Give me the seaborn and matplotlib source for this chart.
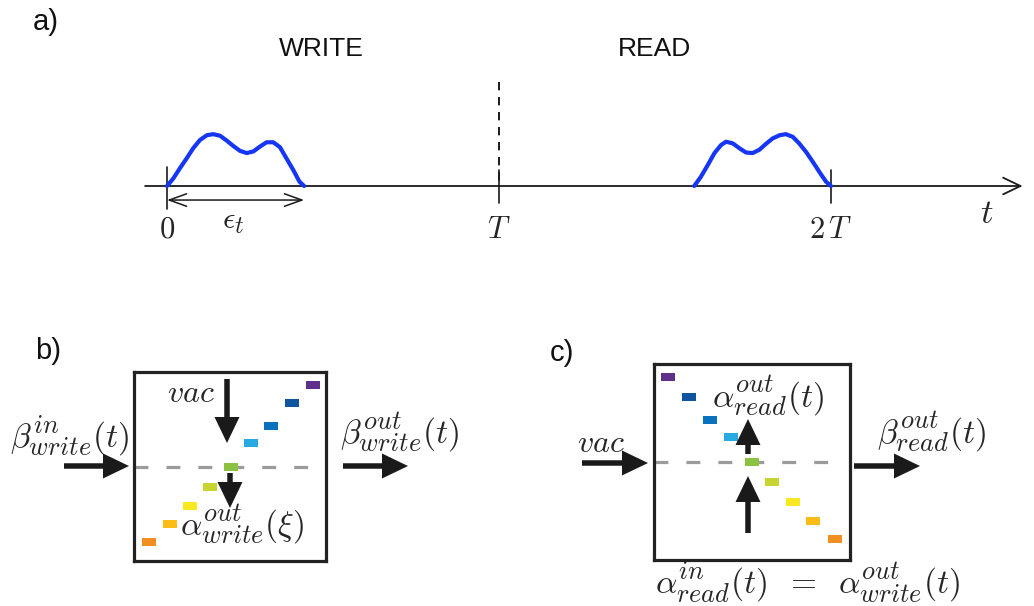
import numpy as np
import matplotlib
matplotlib.use("Agg")
import matplotlib.pyplot as plt
import matplotlib._mathtext as _mt
import seaborn as sns
from matplotlib.patches import Rectangle

# larger sub/superscripts, as in the reference typesetting
_mt.SHRINK_FACTOR = 0.79

# ---------------- data ----------------
# write pulse (time in units of T, amplitude arb. units)
write_t = [0.0, 0.019, 0.039, 0.059, 0.079, 0.099, 0.120, 0.139, 0.160, 0.180, 0.200,
           0.220, 0.240, 0.260, 0.280, 0.300, 0.320, 0.340, 0.360, 0.380, 0.399, 0.413]
write_a = [0.0, 0.14, 0.33, 0.51, 0.70, 0.85, 0.94, 0.96, 0.93, 0.84, 0.74,
           0.65, 0.61, 0.64, 0.73, 0.81, 0.81, 0.72, 0.51, 0.30, 0.08, 0.0]
# read pulse (time-reversed shape)
read_t = [1.588, 1.608, 1.629, 1.649, 1.669, 1.684, 1.704, 1.724, 1.744, 1.764, 1.784,
          1.804, 1.824, 1.845, 1.864, 1.885, 1.904, 1.925, 1.945, 1.965, 1.985, 2.0]
read_a = [0.0, 0.17, 0.39, 0.61, 0.76, 0.82, 0.79, 0.70, 0.62, 0.61, 0.67,
          0.78, 0.88, 0.94, 0.96, 0.91, 0.79, 0.63, 0.45, 0.26, 0.08, 0.0]

tick_times = [0, 1, 2]
tick_labels = [r"$0$", r"$T$", r"$2\,T$"]

# spectral modes -- colours from low to high index
mode_colors = ["#F18F21", "#FBBC15", "#F9E722", "#C8D431", "#8DC141",
               "#27AAE1", "#0A72BD", "#1155A0", "#5F2F8A"]
# relative positions of the modes inside the memory box (0..1)
write_mode_x = [0.078, 0.188, 0.292, 0.396, 0.505, 0.609, 0.714, 0.823, 0.932]
write_mode_y = [0.101, 0.196, 0.291, 0.392, 0.497, 0.624, 0.714, 0.836, 0.931]
read_mode_x = [0.923, 0.811, 0.709, 0.602, 0.500, 0.393, 0.286, 0.179, 0.071]
read_mode_y = [0.105, 0.197, 0.294, 0.396, 0.499, 0.627, 0.714, 0.831, 0.934]

# ---------------- style ----------------
sns.set_theme(style="white")
plt.rcParams["font.family"] = ["Liberation Sans", "DejaVu Sans"]
plt.rcParams["mathtext.fontset"] = "cm"

W, H = 1034, 606
fig = plt.figure(figsize=(W / 100, H / 100), dpi=100)
fig.patch.set_facecolor("white")

# ---------------- panel a: time axis ----------------
T_PIX0, T_SCALE, BASE_Y, AMP_SCALE = 167, 332, 186, 54
ax_t = fig.add_axes([0, 0, 1, 1])
ax_t.set_xlim(-T_PIX0 / T_SCALE, (W - T_PIX0) / T_SCALE)
ax_t.set_ylim((BASE_Y - H) / AMP_SCALE, BASE_Y / AMP_SCALE)
ax_t.axis("off")

pulse_color = "#1536F5"
sns.lineplot(x=write_t, y=write_a, ax=ax_t, color=pulse_color, lw=3.0,
             sort=False, estimator=None, solid_capstyle="round",
             solid_joinstyle="round", zorder=5)
sns.lineplot(x=read_t, y=read_a, ax=ax_t, color=pulse_color, lw=3.0,
             sort=False, estimator=None, solid_capstyle="round",
             solid_joinstyle="round", zorder=5)

# main time axis with open arrow
ax_t.annotate("", xy=(2.577, 0), xytext=(-0.066, 0),
              arrowprops=dict(arrowstyle="->,head_length=1.25,head_width=0.6",
                              lw=1.3, color="k", shrinkA=0, shrinkB=0,
                              mutation_scale=10))
# ticks
ax_t.plot([0, 0], [0.35, -0.42], color="k", lw=1.2)
for tt in tick_times[1:]:
    ax_t.plot([tt, tt], [0.30, -0.31], color="k", lw=1.2)
# dashed separator at T
ax_t.plot([1, 1], [1.93, 0.0], color="k", lw=1.4, dashes=(6 / 1.4, 4.8 / 1.4))
# epsilon_t double arrow
ax_t.annotate("", xy=(write_t[-1], -0.26), xytext=(0, -0.26),
              arrowprops=dict(arrowstyle="<->,head_length=1.25,head_width=0.45",
                              lw=1.1, color="k", shrinkA=0, shrinkB=0,
                              mutation_scale=10))
for tt, lab in zip(tick_times, tick_labels):
    ax_t.text(tt, -0.96, lab, ha="center", va="baseline", fontsize=22)
ax_t.text(0.20, -0.80, r"$\epsilon_t$", ha="center", va="baseline", fontsize=22)
ax_t.text(2.47, -0.69, r"$t$", ha="center", va="baseline", fontsize=25)

# ---------------- panels b, c: memory boxes ----------------
def box_axes(x0, y0, x1, y1):
    a = fig.add_axes([x0 / W, 1 - y1 / H, (x1 - x0) / W, (y1 - y0) / H])
    a.set_xlim(0, 1)
    a.set_ylim(0, 1)
    a.set_xticks([])
    a.set_yticks([])
    a.set_facecolor("none")
    for s in a.spines.values():
        s.set_linewidth(2.3)
        s.set_color("#222222")
        s.set_visible(True)
    return a, (x1 - x0), (y1 - y0)

RECT_W, RECT_H = 14, 8  # pixels

def draw_modes(a, bw, bh, xs, ys, dash_end):
    a.plot([0, dash_end], [0.5, 0.5], color="#9B9B9B", lw=2.3,
           dashes=(10 / 2.3, 13 / 2.3), zorder=1)
    for x, y, c in zip(xs, ys, mode_colors):
        a.add_patch(Rectangle((x - RECT_W / bw / 2, y - RECT_H / bh / 2),
                              RECT_W / bw, RECT_H / bh, color=c, lw=0, zorder=2))

ax_b, bw_b, bh_b = box_axes(134, 372, 326, 561)
draw_modes(ax_b, bw_b, bh_b, write_mode_x, write_mode_y, 0.917)
ax_c, bw_c, bh_c = box_axes(654, 364, 850, 559.5)
draw_modes(ax_c, bw_c, bh_c, read_mode_x, read_mode_y, 0.923)

# ---------------- overlay: arrows and labels (pixel coords) ----------------
ax_p = fig.add_axes([0, 0, 1, 1])
ax_p.set_xlim(0, W)
ax_p.set_ylim(H, 0)
ax_p.axis("off")
ax_p.set_facecolor("none")

def fat_arrow(x0, y0, x1, y1):
    ax_p.arrow(x0, y0, x1 - x0, y1 - y0, width=5.5, head_width=25,
               head_length=26, length_includes_head=True, color="k", lw=0,
               zorder=6)

# panel b arrows
fat_arrow(64, 466, 129, 466)
fat_arrow(343, 466, 408, 466)
fat_arrow(227, 379, 227, 443)
fat_arrow(230, 473, 230, 508)
# panel c arrows
fat_arrow(582, 463, 648, 463)
fat_arrow(854, 466, 920, 466)
fat_arrow(748, 533, 748, 476)
fat_arrow(748, 454, 748, 419)

# panel labels / headings
for x, y, s in [(33, 30, "a)"), (35, 359, "b)"), (550, 361, "c)")]:
    ax_p.text(x, y, s, ha="left", va="baseline", fontsize=21, color="#111111")
ax_p.text(321, 56, "WRITE", ha="center", va="baseline", fontsize=19, color="#111111")
ax_p.text(655, 56, "READ", ha="center", va="baseline", fontsize=19, color="#111111")

MS = 24
ax_p.text(191, 402, r"$vac$", ha="center", va="baseline", fontsize=23)
ax_p.text(601, 452, r"$vac$", ha="center", va="baseline", fontsize=23)
ax_p.text(10, 447, r"$\beta^{in}_{write}(t)$", ha="left", va="baseline", fontsize=MS)
ax_p.text(340, 443, r"$\beta^{out}_{write}(t)$", ha="left", va="baseline", fontsize=MS)
ax_p.text(180, 535, r"$\alpha^{out}_{write}(\xi)$", ha="left", va="baseline", fontsize=MS)
ax_p.text(712, 407, r"$\alpha^{out}_{read}(t)$", ha="left", va="baseline", fontsize=MS)
ax_p.text(877, 443, r"$\beta^{out}_{read}(t)$", ha="left", va="baseline", fontsize=MS)
ax_p.text(655, 593, r"$\alpha^{in}_{read}(t)\;\;=\;\;\alpha^{out}_{write}(t)$", ha="left",
          va="baseline", fontsize=MS)

fig.savefig("out.png", dpi=100, facecolor="white")
